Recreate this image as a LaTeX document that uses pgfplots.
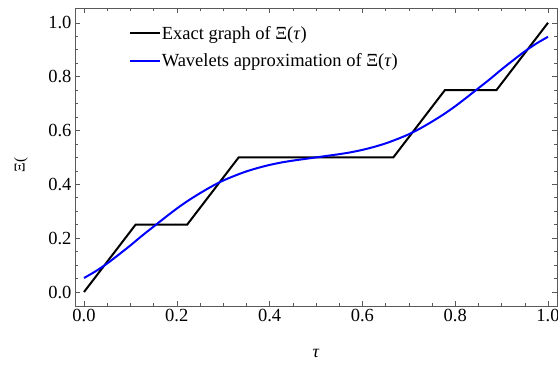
\documentclass[border=0pt]{standalone}
\usepackage{pgfplots}
\pgfplotsset{compat=1.18}
\usepackage{fontspec}
\setmainfont{Liberation Serif}
\begin{document}
\begin{tikzpicture}
\begin{axis}[
  name=ax,
  scale only axis,
  width=482bp, height=298bp,
  xmin=-0.0194, xmax=1.0194,
  ymin=-0.052, ymax=1.055,
  xtick={0,0.2,0.4,0.6,0.8,1.0},
  ytick={0,0.2,0.4,0.6,0.8,1.0},
  minor tick num=3,
  xticklabel style={/pgf/number format/fixed,/pgf/number format/fixed zerofill,/pgf/number format/precision=1},
  yticklabel style={/pgf/number format/fixed,/pgf/number format/fixed zerofill,/pgf/number format/precision=1},
  /pgf/number format/assume math mode=true,
  ticklabel style={font=\fontsize{18.5bp}{20bp}\selectfont},
  tick align=inside,
  major tick length=5bp,
  minor tick length=3bp,
  axis line style={black!65, line width=0.8pt},
  every tick/.style={black!65, line width=0.6pt},
  every axis x label/.style={at={(rel axis cs:0.5,0)}, anchor=center, yshift=-47bp},
  every axis y label/.style={at={(rel axis cs:0,0.473)}, anchor=center, xshift=-54bp, rotate=90},
  xlabel={\fontsize{18bp}{20bp}\selectfont\textit{τ}},
  ylabel={\fontsize{15bp}{17bp}\selectfont Ξ(},
  legend style={draw=none, fill=none, at={(rel axis cs:0.105,0.95)}, anchor=north west,
    font=\fontsize{18.5bp}{20bp}\selectfont, row sep=11bp,
    nodes={inner sep=1bp}},
  legend cell align=left,
  legend image code/.code={\draw[#1] (0bp,0bp) -- (30bp,0bp);},
]
\addplot[black, line width=2bp] coordinates {
  (0,0) (0.11111,0.25) (0.22222,0.25) (0.33333,0.5) (0.66667,0.5) (0.77778,0.75) (0.88889,0.75) (1,1)
};
\addlegendentry{Exact graph of Ξ(\textit{τ})}
\addplot[blue, line width=2bp, smooth] coordinates {
  (0.000,0.052) (0.025,0.077) (0.050,0.106) (0.075,0.139) (0.100,0.173)
  (0.125,0.209) (0.150,0.243) (0.175,0.277) (0.200,0.310) (0.225,0.340)
  (0.250,0.367) (0.275,0.392) (0.300,0.414) (0.325,0.432) (0.350,0.448)
  (0.375,0.461) (0.400,0.472) (0.425,0.481) (0.450,0.488) (0.475,0.494)
  (0.500,0.500)
  (0.525,0.506) (0.550,0.512) (0.575,0.519) (0.600,0.528) (0.625,0.539)
  (0.650,0.552) (0.675,0.568) (0.700,0.586) (0.725,0.608) (0.750,0.633)
  (0.775,0.660) (0.800,0.690) (0.825,0.723) (0.850,0.757) (0.875,0.791)
  (0.900,0.827) (0.925,0.861) (0.950,0.894) (0.975,0.923) (1.000,0.948)
};
\addlegendentry{Wavelets approximation of Ξ(\textit{τ})}
\end{axis}
\pgfresetboundingbox
\path[use as bounding box] ([shift={(-75bp,-64bp)}]ax.south west) rectangle ([shift={(1bp,8bp)}]ax.north east);
\end{tikzpicture}
\end{document}
